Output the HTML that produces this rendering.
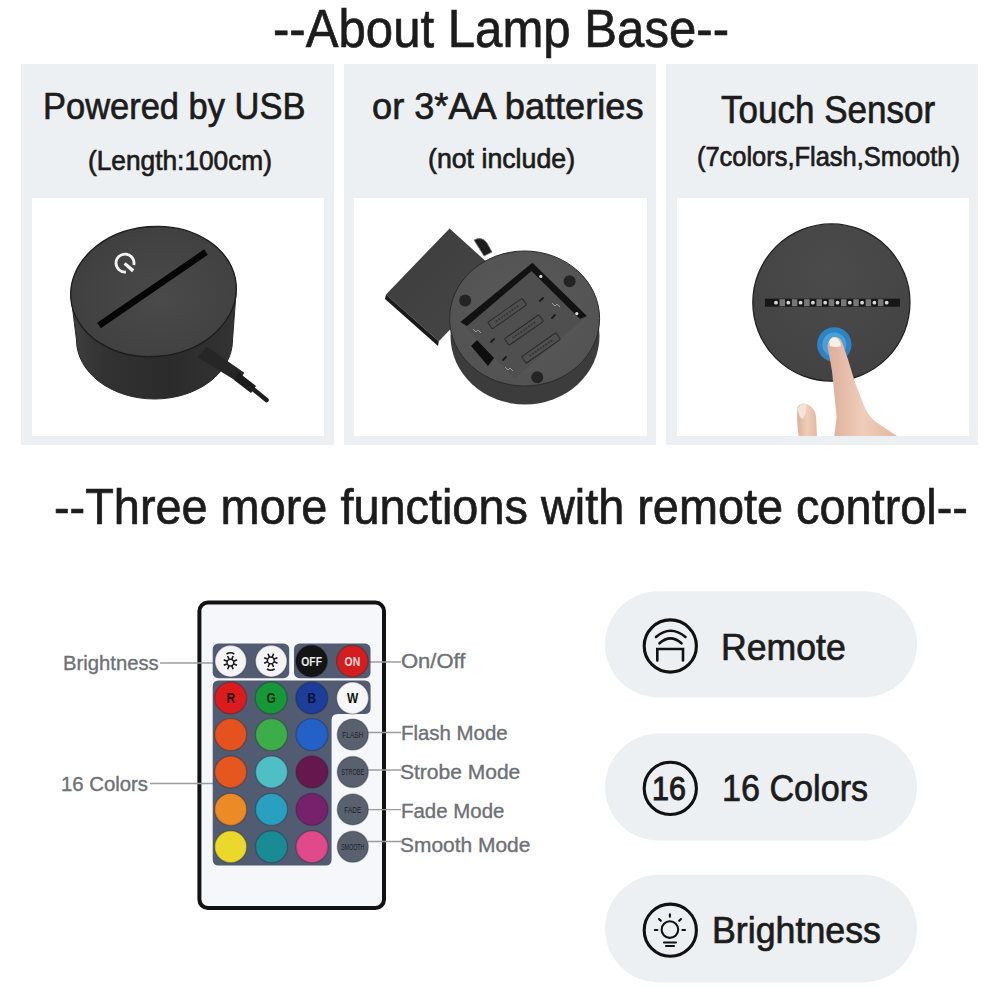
<!DOCTYPE html>
<html><head><meta charset="utf-8">
<style>
html,body{margin:0;padding:0;background:#fff;width:1000px;height:1000px;overflow:hidden}
body{position:relative;font-family:"Liberation Sans",sans-serif}
.t{position:absolute;white-space:nowrap;line-height:1;transform-origin:0 0;font-family:"Liberation Sans",sans-serif}
svg{position:absolute;left:0;top:0}
</style></head><body>
<svg width="1000" height="1000" viewBox="0 0 1000 1000">
<defs>
 <radialGradient id="topface1" cx="0.55" cy="0.55" r="0.65">
  <stop offset="0" stop-color="#4a4a4a"/><stop offset="1" stop-color="#3e3e3e"/>
 </radialGradient>
 <linearGradient id="side1" x1="0" y1="0" x2="1" y2="0">
  <stop offset="0" stop-color="#404040"/><stop offset="0.2" stop-color="#323232"/><stop offset="0.6" stop-color="#2b2b2b"/><stop offset="1" stop-color="#333"/>
 </linearGradient>
 <radialGradient id="face2" cx="0.5" cy="0.45" r="0.6">
  <stop offset="0" stop-color="#5a5a5a"/><stop offset="1" stop-color="#525252"/>
 </radialGradient>
 <linearGradient id="cover2" x1="0" y1="0" x2="1" y2="1">
  <stop offset="0" stop-color="#3c3c3c"/><stop offset="1" stop-color="#474747"/>
 </linearGradient>
 <radialGradient id="disc3" cx="0.5" cy="0.3" r="0.75">
  <stop offset="0" stop-color="#4b4b4b"/><stop offset="1" stop-color="#424242"/>
 </radialGradient>
 <linearGradient id="skin" x1="0" y1="0" x2="1" y2="0">
  <stop offset="0" stop-color="#dcae98"/><stop offset="0.5" stop-color="#f0cdb9"/><stop offset="1" stop-color="#e2b8a2"/>
 </linearGradient>
</defs>
<!-- panels -->
<rect x="21" y="64" width="313" height="381" fill="#edf0f3"/>
<rect x="344" y="64" width="312" height="381" fill="#edf0f3"/>
<rect x="666" y="64" width="312" height="381" fill="#edf0f3"/>
<rect x="32" y="198" width="292" height="238" fill="#fff"/>
<rect x="354" y="198" width="293" height="238" fill="#fff"/>
<rect x="677" y="198" width="292" height="238" fill="#fff"/>

<!-- photo 1: USB lamp base -->
<g>
 <path d="M71 296 L76.5 340 A78 59 0 0 0 232.5 340 L236 293 Z" fill="url(#side1)" stroke="#262626" stroke-width="1"/>
 <ellipse cx="153.5" cy="291.5" rx="83" ry="65" transform="rotate(-5 153.5 291.5)" fill="url(#topface1)" stroke="#1c1c1c" stroke-width="1.3"/>
 <line x1="99" y1="325.5" x2="206" y2="252" stroke="#060606" stroke-width="6.5"/>
 <path d="M125.9 272 A9 9 0 1 1 133.8 265" fill="none" stroke="#f4f4f4" stroke-width="2.8"/>
 <path d="M123.6 264.4 L125.6 262.2 L134.4 269.6 L132 272.2 Z" fill="#f4f4f4"/>
 <path d="M199 357 L207 348 L243 373 L238 381 Z" fill="#262626" stroke="#262626" stroke-width="2" stroke-linejoin="round"/>
 <path d="M238 372 L256 386 L251 393 L234 380 Z" fill="#1c1c1c"/>
 <path d="M253 389 L266.5 400" stroke="#1e1e1e" stroke-width="4.6" stroke-linecap="round"/>
</g>

<!-- photo 2: battery base -->
<g>
 <polygon points="449.6,228.4 386,294.4 438.8,341.2 502,276" fill="url(#cover2)"/>
 <polygon points="386,294.4 438.8,341.2 438,346 385,299" fill="#1a1a1a"/>
 <path d="M474 240 Q482 236 487 243 L492 252 L484 256 Z" fill="#1d1d1d" stroke="#777" stroke-width="0.8"/>
 <ellipse cx="525" cy="336" rx="74.5" ry="68.5" fill="#3c3c3c"/>
 <ellipse cx="524.6" cy="318.5" rx="75" ry="67.5" fill="url(#face2)" stroke="#2a2a2a" stroke-width="1"/>
 <polygon points="532.4,262.7 586.9,316 514.4,378.4 460.4,322" fill="#4f4f4f"/>
 <polygon points="532.4,262.7 586.9,316 580,319 531.5,271 467,326 460.4,322" fill="#121212"/>
 <g fill="none" stroke="#2a2a2a" stroke-width="1">
  <rect x="-21" y="-4" width="42" height="8" rx="1" transform="translate(507.2 313.6) rotate(-35)"/>
  <rect x="-21" y="-4" width="42" height="8" rx="1" transform="translate(524 330) rotate(-35)"/>
  <rect x="-21" y="-4" width="42" height="8" rx="1" transform="translate(541 348) rotate(-35)"/>
 </g>
 <g stroke="#333" stroke-width="1.6" stroke-dasharray="2 1.2">
  <line x1="-14" y1="0" x2="14" y2="0" transform="translate(507.2 313.6) rotate(-35)"/>
  <line x1="-14" y1="0" x2="14" y2="0" transform="translate(524 330) rotate(-35)"/>
  <line x1="-14" y1="0" x2="14" y2="0" transform="translate(541 348) rotate(-35)"/>
 </g>
 <g stroke="#1a1a1a" stroke-width="1.8" stroke-linecap="round">
  <line x1="491" y1="342" x2="494" y2="339"/><line x1="540" y1="301" x2="543" y2="298"/>
  <line x1="552" y1="318" x2="555" y2="315"/><line x1="503" y1="360" x2="506" y2="357"/>
 </g>
 <g stroke="#999" stroke-width="1" fill="none">
  <path d="M473 329 l3 3 l2 -2 l3 3"/><path d="M552 303 l3 3 l2 -2 l3 3"/><path d="M505 367 l3 3 l2 -2 l3 3"/>
 </g>
 <circle cx="540.8" cy="276.4" r="1.6" fill="#ddd"/>
 <circle cx="576.8" cy="313.6" r="1.6" fill="#ddd"/>
 <circle cx="465.2" cy="300.4" r="6" fill="#242424"/>
 <circle cx="569.6" cy="281.2" r="6" fill="#242424"/>
 <circle cx="537.2" cy="377.2" r="6" fill="#242424"/>
 <polygon points="471,346 477,340 494,358 488,366" fill="#0e0e0e"/>
</g>

<!-- photo 3: touch sensor -->
<g>
 <circle cx="831.4" cy="302.5" r="78.6" fill="url(#disc3)" stroke="#1e1e1e" stroke-width="1.2"/>
 <rect x="765" y="298.7" width="135" height="8" fill="#161616"/>
 <g fill="#777">
  <rect x="779.5" y="299.2" width="5.5" height="7"/><rect x="791.8" y="299.2" width="5.5" height="7"/><rect x="804.1" y="299.2" width="5.5" height="7"/><rect x="816.4" y="299.2" width="5.5" height="7"/><rect x="828.7" y="299.2" width="5.5" height="7"/><rect x="841.0" y="299.2" width="5.5" height="7"/><rect x="853.3" y="299.2" width="5.5" height="7"/><rect x="865.6" y="299.2" width="5.5" height="7"/><rect x="877.9" y="299.2" width="5.5" height="7"/>
 </g>
 <g fill="#d8d8d8">
  <circle cx="776.0" cy="302.7" r="1.9"/><circle cx="788.3" cy="302.7" r="1.9"/><circle cx="800.6" cy="302.7" r="1.9"/><circle cx="812.9" cy="302.7" r="1.9"/><circle cx="825.2" cy="302.7" r="1.9"/><circle cx="837.5" cy="302.7" r="1.9"/><circle cx="849.8" cy="302.7" r="1.9"/><circle cx="862.1" cy="302.7" r="1.9"/><circle cx="874.4" cy="302.7" r="1.9"/><circle cx="886.7" cy="302.7" r="1.9"/>
 </g>
 <circle cx="834.3" cy="344.5" r="17.2" fill="#2d83c4"/>
 <circle cx="834.3" cy="344.5" r="12" fill="#4aa0d8"/>
 <path d="M827.4 345.7 Q829 337 835 337 Q840 337 842 342 L848 359.5 L855 382.5 L864 405.5 Q868 416 876 422 L897 436 L834.3 436 L836.6 417 L832 371 Z" fill="url(#skin)"/>
 <path d="M829 342 Q831 336.5 835.5 337.5 Q840 339 841 346 Q836 348 830 346 Z" fill="#fbefe8"/>
 <path d="M798.6 436 Q796.5 420 797.5 407 Q801 402 807 404 Q815 408 816 416 L817 436 Z" fill="url(#skin)"/>
 <path d="M797.8 408 Q801 402.5 806.5 404.5 Q807 412 803 419 Q798.5 418 797.8 408 Z" fill="#f6e4dc"/>
</g>

<!-- remote -->
<rect x="199.4" y="602.6" width="184.6" height="305.4" rx="8.5" fill="#f6f7fb" stroke="#121212" stroke-width="4"/>
<g stroke="#9c9c9c" stroke-width="1.3">
 <line x1="160" y1="663" x2="214" y2="663"/>
 <line x1="150" y1="783.5" x2="214" y2="783.5"/>
 <line x1="368" y1="662" x2="401" y2="662"/>
 <line x1="368" y1="732.5" x2="401" y2="732.5"/>
 <line x1="368" y1="770" x2="401" y2="770"/>
 <line x1="368" y1="809.6" x2="401" y2="809.6"/>
 <line x1="368" y1="841.5" x2="401" y2="841.5"/>
</g>
<rect x="212.7" y="643.6" width="76.5" height="34.6" rx="5.5" fill="#515b71"/>
<rect x="294" y="643.6" width="76.5" height="34.6" rx="5.5" fill="#515b71"/>
<path d="M218.7 680.5 H364.6 Q370.6 680.5 370.6 686.5 V708 Q370.6 714 364.6 714 H338 Q331.6 714 331.6 720 V859.5 Q331.6 865.5 325.6 865.5 H218.7 Q212.7 865.5 212.7 859.5 V686.5 Q212.7 680.5 218.7 680.5 Z" fill="#515b71"/>
<g stroke="#1a1e28" stroke-opacity="0.3" stroke-width="1.4">
 <circle cx="230.7" cy="661.1" r="15.8" fill="#f4f4f7"/>
 <circle cx="271.2" cy="661.1" r="15.8" fill="#f4f4f7"/>
 <circle cx="311.6" cy="661.1" r="15.8" fill="#141414"/>
 <circle cx="352.4" cy="661.1" r="15.8" fill="#d61d1d"/>

 <circle cx="230.7" cy="698" r="16" fill="#dc1c1c"/>
 <circle cx="271.2" cy="698" r="16" fill="#179838"/>
 <circle cx="311.8" cy="698" r="16" fill="#1d3d9a"/>
 <circle cx="352.6" cy="698" r="16" fill="#f7f7f8"/>

 <circle cx="230.7" cy="734.6" r="16" fill="#e6521e"/>
 <circle cx="271.5" cy="734.6" r="16" fill="#3bae48"/>
 <circle cx="312" cy="734.6" r="16" fill="#2361c6"/>
 <circle cx="352.8" cy="734.6" r="15.5" fill="#59616f"/>

 <circle cx="230.7" cy="772" r="16" fill="#e6561f"/>
 <circle cx="271.5" cy="772" r="16" fill="#4fbfc6"/>
 <circle cx="312" cy="772" r="16" fill="#66184e"/>
 <circle cx="352.8" cy="772" r="15.5" fill="#59616f"/>

 <circle cx="230.7" cy="809.4" r="16" fill="#ec8a24"/>
 <circle cx="271.5" cy="809.4" r="16" fill="#28a0bf"/>
 <circle cx="312" cy="809.4" r="16" fill="#77206c"/>
 <circle cx="352.8" cy="809.4" r="15.5" fill="#59616f"/>

 <circle cx="230.7" cy="846.8" r="16" fill="#ead82a"/>
 <circle cx="271.5" cy="846.8" r="16" fill="#198b95"/>
 <circle cx="312" cy="846.8" r="16" fill="#e14a8a"/>
 <circle cx="352.8" cy="846.8" r="15.5" fill="#59616f"/>
</g>
<!-- sun icons -->
<g stroke="#1a1a1a" fill="none">
 <circle cx="230.4" cy="662.6" r="3.4" stroke-width="1.5"/>
 <circle cx="270.8" cy="660.4" r="3.4" stroke-width="1.5"/>
 <path stroke-width="1.6" d="M233.73 663.98L237.05 665.36M231.78 665.93L233.16 669.25M229.02 665.93L227.64 669.25M227.07 663.98L223.75 665.36M227.07 661.22L223.75 659.84M229.02 659.27L227.64 655.95M231.78 659.27L233.16 655.95M233.73 661.22L237.05 659.84"/>
 <path stroke-width="1.6" d="M274.13 661.78L277.45 663.16M272.18 663.73L273.56 667.05M269.42 663.73L268.04 667.05M267.47 661.78L264.15 663.16M267.47 659.02L264.15 657.64M269.42 657.07L268.04 653.75M272.18 657.07L273.56 653.75M274.13 659.02L277.45 657.64"/>
 <path stroke-width="1.5" d="M226.5 654 Q230.4 651.5 234.3 654"/>
 <path stroke-width="1.5" d="M266.9 669 Q270.8 671.5 274.7 669"/>
</g>
<g font-family="Liberation Sans" font-weight="bold" text-anchor="middle">
 <text x="311.6" y="666" font-size="13" fill="#ececec" transform="translate(311.6 0) scale(0.8 1) translate(-311.6 0)">OFF</text>
 <text x="352.4" y="666" font-size="13" fill="#f5dcdc" transform="translate(352.4 0) scale(0.8 1) translate(-352.4 0)">ON</text>
 <text x="230.7" y="703.2" font-size="14" fill="#1e0e0e" transform="translate(230.7 0) scale(0.85 1) translate(-230.7 0)">R</text>
 <text x="271.2" y="703.2" font-size="14" fill="#0a2a10" transform="translate(271.2 0) scale(0.85 1) translate(-271.2 0)">G</text>
 <text x="311.8" y="703.2" font-size="14" fill="#0a1030" transform="translate(311.8 0) scale(0.85 1) translate(-311.8 0)">B</text>
 <text x="352.6" y="703.2" font-size="14" fill="#111" transform="translate(352.6 0) scale(0.85 1) translate(-352.6 0)">W</text>
</g>
<g font-family="Liberation Sans" text-anchor="middle" fill="#1a1e28" font-size="9">
 <text x="352.8" y="738" transform="translate(352.8 0) scale(0.72 1) translate(-352.8 0)">FLASH</text>
 <text x="352.8" y="775.3" transform="translate(352.8 0) scale(0.62 1) translate(-352.8 0)">STROBE</text>
 <text x="352.8" y="812.7" transform="translate(352.8 0) scale(0.72 1) translate(-352.8 0)">FADE</text>
 <text x="352.8" y="850.1" transform="translate(352.8 0) scale(0.58 1) translate(-352.8 0)">SMOOTH</text>
</g>

<!-- pills -->
<rect x="605" y="591.2" width="312" height="106.2" rx="53.1" fill="#ecf0f3"/>
<rect x="605" y="733.6" width="312" height="107" rx="53.5" fill="#ecf0f3"/>
<rect x="605" y="874.8" width="312" height="107.6" rx="53.8" fill="#ecf0f3"/>
<g stroke="#111" stroke-width="3.1" fill="none">
 <circle cx="670.3" cy="646" r="26.1"/>
 <circle cx="670.3" cy="788.4" r="26.1"/>
 <circle cx="670.3" cy="930.2" r="26.1"/>
</g>
<g stroke="#111" stroke-width="2.6" fill="none" stroke-linecap="round">
 <path d="M656 637 Q670.5 624.5 685.5 637"/>
 <path d="M659.5 643.3 Q670.5 633.5 681.5 643.3"/>
 <path d="M657.3 660.5 V649 H683 V660.5"/>
</g>
<g stroke="#111" stroke-width="2.1" fill="none" stroke-linecap="round">
 <circle cx="669.9" cy="929.6" r="8.3"/>
 <line x1="669.9" y1="914.4" x2="669.9" y2="916.8"/>
 <line x1="659" y1="919" x2="660.8" y2="920.8"/>
 <line x1="681" y1="919" x2="679.2" y2="920.8"/>
 <line x1="654.8" y1="930" x2="657.4" y2="930"/>
 <line x1="682.4" y1="930" x2="685" y2="930"/>
 <line x1="664" y1="942.5" x2="676" y2="942.5"/>
 <line x1="666" y1="946" x2="674" y2="946"/>
</g>
</svg>
<div class="t" style="left:273.03px;top:2.07px;font-size:53.33px;color:#1c1c1c;-webkit-text-stroke:0.7px #1c1c1c;transform:scaleX(0.9213)">--About Lamp Base--</div>
<div class="t" style="left:43.24px;top:88.15px;font-size:37.83px;color:#1c1c1c;-webkit-text-stroke:0.7px #1c1c1c;transform:scaleX(0.9109)">Powered by USB</div>
<div class="t" style="left:371.55px;top:88.15px;font-size:37.83px;color:#1c1c1c;-webkit-text-stroke:0.7px #1c1c1c;transform:scaleX(0.9566)">or 3*AA batteries</div>
<div class="t" style="left:721.30px;top:91.21px;font-size:38.70px;color:#1c1c1c;-webkit-text-stroke:0.7px #1c1c1c;transform:scaleX(0.9051)">Touch Sensor</div>
<div class="t" style="left:88.42px;top:146.55px;font-size:27.83px;color:#1c1c1c;-webkit-text-stroke:0.7px #1c1c1c;transform:scaleX(0.9440)">(Length:100cm)</div>
<div class="t" style="left:428.40px;top:144.65px;font-size:27.83px;color:#1c1c1c;-webkit-text-stroke:0.7px #1c1c1c;transform:scaleX(0.9601)">(not include)</div>
<div class="t" style="left:697.47px;top:144.09px;font-size:26.96px;color:#1c1c1c;-webkit-text-stroke:0.7px #1c1c1c;transform:scaleX(0.9434)">(7colors,Flash,Smooth)</div>
<div class="t" style="left:54.13px;top:483.22px;font-size:49.86px;color:#1c1c1c;-webkit-text-stroke:0.7px #1c1c1c;transform:scaleX(0.9397)">--Three more functions with remote control--</div>
<div class="t" style="left:62.88px;top:653.46px;font-size:20.87px;color:#6d7075;-webkit-text-stroke:0.35px #6d7075;transform:scaleX(0.9709)">Brightness</div>
<div class="t" style="left:61.38px;top:774.20px;font-size:20.00px;color:#6d7075;-webkit-text-stroke:0.35px #6d7075;transform:scaleX(1.0168)">16 Colors</div>
<div class="t" style="left:401.32px;top:651.46px;font-size:20.87px;color:#6d7075;-webkit-text-stroke:0.35px #6d7075;transform:scaleX(1.0547)">On/Off</div>
<div class="t" style="left:401.07px;top:722.95px;font-size:20.29px;color:#6d7075;-webkit-text-stroke:0.35px #6d7075;transform:scaleX(1.0063)">Flash Mode</div>
<div class="t" style="left:400.06px;top:762.15px;font-size:20.29px;color:#6d7075;-webkit-text-stroke:0.35px #6d7075;transform:scaleX(1.0355)">Strobe Mode</div>
<div class="t" style="left:400.87px;top:800.80px;font-size:20.00px;color:#6d7075;-webkit-text-stroke:0.35px #6d7075;transform:scaleX(1.0218)">Fade Mode</div>
<div class="t" style="left:400.16px;top:834.85px;font-size:20.29px;color:#6d7075;-webkit-text-stroke:0.35px #6d7075;transform:scaleX(1.0323)">Smooth Mode</div>
<div class="t" style="left:721.45px;top:628.66px;font-size:37.10px;color:#1c1c1c;-webkit-text-stroke:0.7px #1c1c1c;transform:scaleX(0.9610)">Remote</div>
<div class="t" style="left:721.91px;top:770.46px;font-size:37.10px;color:#1c1c1c;-webkit-text-stroke:0.7px #1c1c1c;transform:scaleX(0.9208)">16 Colors</div>
<div class="t" style="left:712.14px;top:912.56px;font-size:36.52px;color:#1c1c1c;-webkit-text-stroke:0.7px #1c1c1c;transform:scaleX(0.9790)">Brightness</div>
<div class="t" style="left:652.47px;top:772.27px;font-size:33.33px;color:#1c1c1c;-webkit-text-stroke:1.1px #1c1c1c;transform:scaleX(0.9124)">16</div>
</body></html>
